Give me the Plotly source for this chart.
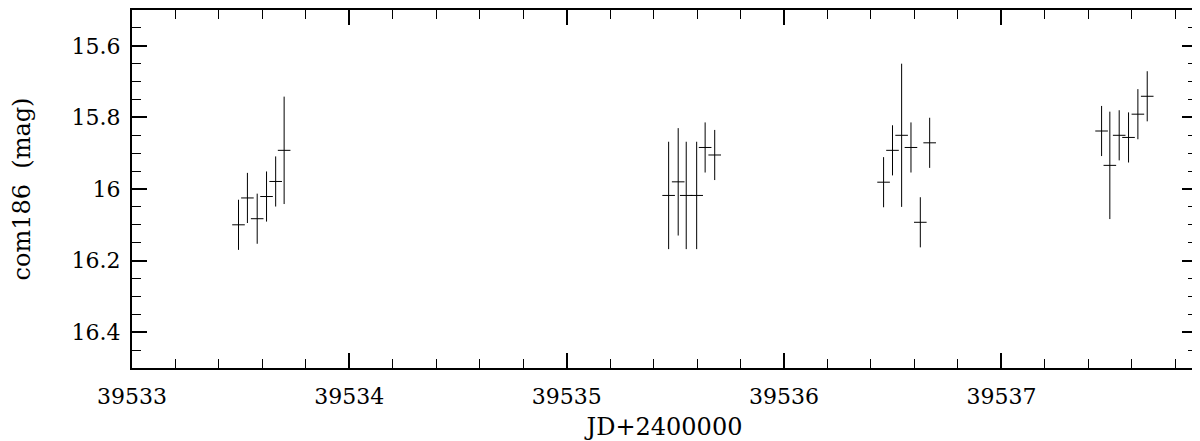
import plotly.graph_objects as go

# dates julienne (JD - 2400000), magnitudes et erreurs
jd = [39533.490, 39533.531, 39533.576, 39533.619, 39533.661, 39533.700,
      39535.469, 39535.513, 39535.550, 39535.598, 39535.637, 39535.681,
      39536.458, 39536.499, 39536.541, 39536.584, 39536.627, 39536.670,
      39537.461, 39537.499, 39537.542, 39537.585, 39537.628, 39537.671]
mag = [16.100, 16.025, 16.083, 16.021, 15.979, 15.892,
       16.018, 15.980, 16.018, 16.018, 15.884, 15.905,
       15.981, 15.892, 15.850, 15.884, 16.093, 15.871,
       15.838, 15.934, 15.850, 15.856, 15.791, 15.741]
err = [0.07, 0.07, 0.07, 0.07, 0.07, 0.15,
       0.15, 0.15, 0.15, 0.15, 0.07, 0.07,
       0.07, 0.07, 0.20, 0.07, 0.07, 0.07,
       0.07, 0.15, 0.07, 0.07, 0.07, 0.07]
demi_largeur = 0.029  # demi-largeur du trait horizontal de la croix (en jours)

fig = go.Figure()
fig.add_trace(go.Scatter(
    x=jd, y=mag, mode='markers',
    marker=dict(size=1, color='rgba(0,0,0,0)'),
    error_y=dict(type='data', array=err, visible=True, color='black', thickness=1, width=0),
    error_x=dict(type='constant', value=demi_largeur, visible=True, color='black', thickness=1, width=0),
    showlegend=False,
))

police_ticks = dict(family='DejaVu Serif', size=22, color='black')
police_titre = dict(family='DejaVu Serif', size=24, color='black')

# la page ajoute 8 px de marge (body) : marges réduites d'autant
fig.update_layout(
    width=1200, height=441,
    margin=dict(l=124, r=11, t=0, b=81),
    plot_bgcolor='white', paper_bgcolor='white',
    font=police_ticks,
)
fig.update_xaxes(
    range=[39533, 39537.9], tickmode='linear', tick0=39533, dtick=1,
    ticks='inside', ticklen=15, tickwidth=1.5, tickcolor='black',
    minor=dict(dtick=0.2, tick0=39533, ticks='inside', ticklen=9, tickwidth=1.3, tickcolor='black'),
    showline=True, linecolor='black', linewidth=2, mirror='allticks',
    showgrid=False, zeroline=False, tickformat='d',
    ticklabelstandoff=8, tickfont=police_ticks,
    title=dict(text='JD+2400000', font=police_titre, standoff=10),
)
fig.update_yaxes(
    range=[16.5, 15.5], tickmode='array', tickvals=[15.6, 15.8, 16, 16.2, 16.4],
    ticktext=['15.6', '15.8', '16', '16.2', '16.4'],
    ticks='inside', ticklen=15, tickwidth=1.5, tickcolor='black',
    minor=dict(dtick=0.05, tick0=15.5, ticks='inside', ticklen=9, tickwidth=1.3, tickcolor='black'),
    showline=True, linecolor='black', linewidth=2, mirror='allticks',
    showgrid=False, zeroline=False,
    ticklabelstandoff=5, tickfont=police_ticks,
    title=dict(text='com186  (mag)', font=police_titre, standoff=38),
)

fig.write_html('out.html')
print('out.html généré avec succès !')
